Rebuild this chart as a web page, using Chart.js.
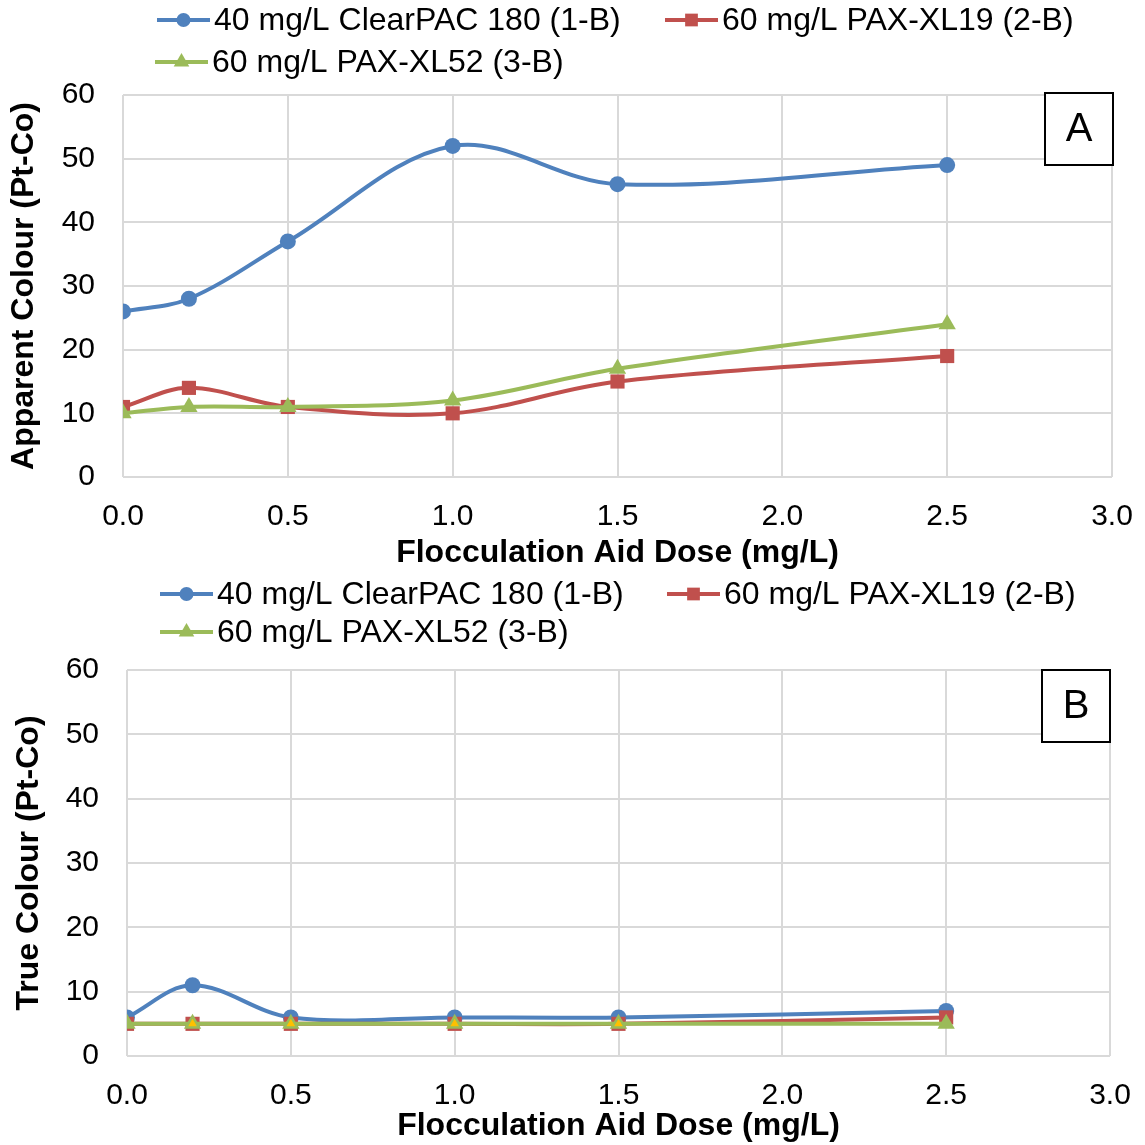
<!DOCTYPE html>
<html>
<head>
<meta charset="utf-8">
<script src="https://cdn.jsdelivr.net/npm/chart.js@4.4.1/dist/chart.umd.min.js"></script>
<style>
  body { margin: 0; background: #fff; }
  #wrapA { position: absolute; left: 0; top: 0; width: 1145px; height: 575px; }
  #wrapB { position: absolute; left: 0; top: 575px; width: 1145px; height: 570px; }
</style>
</head>
<body>
<div id="wrapA"><canvas id="chartA"></canvas></div>
<div id="wrapB"><canvas id="chartB"></canvas></div>
<script>
// doses on the x axis (mg/L)
const doses = [0, 0.2, 0.5, 1.0, 1.5, 2.5]
const xTicks = [0, 0.5, 1.0, 1.5, 2.0, 2.5, 3.0]
const seriesNames = ['40 mg/L ClearPAC 180 (1-B)', '60 mg/L PAX-XL19 (2-B)', '60 mg/L PAX-XL52 (3-B)']

// panel A - apparent colour
const apparentClearPAC = [26, 28, 37, 52, 46, 49]
const apparentXL19 = [11, 14, 11, 10, 15, 19]
const apparentXL52 = [10, 11, 11, 12, 17, 24]

// panel B - true colour
const trueClearPAC = [6, 11, 6, 6, 6, 7]
const trueXL19 = [5, 5, 5, 5, 5, 6]
const trueXL52 = [5, 5, 5, 5, 5, 5]
// stray series in panel B (not in legend)
const strayDoses = [0.2, 0.5, 1.0, 1.5]
const trueStray = [5, 5, 5, 5]

const colors = ['#4F81BD', '#C0504D', '#9BBB59']
const styles = ['circle', 'rect', 'triangle']
const radii = [8, 10, 10]
const FONT = 'Arial, "Liberation Sans", sans-serif'

function pts(xs, ys) {
  return xs.map((x, i) => ({ x: x, y: ys[i] }))
}

function makeSet(i, ys) {
  return {
    label: seriesNames[i],
    data: pts(doses, ys),
    borderColor: colors[i],
    backgroundColor: colors[i],
    borderWidth: 4,
    pointStyle: styles[i],
    pointRadius: radii[i],
    pointBorderWidth: 0,
    tension: 0.35,
    order: 3 - i
  }
}

function marker(ctx, style, x, y, r, color) {
  ctx.fillStyle = color
  ctx.beginPath()
  if (style === 'circle') {
    ctx.arc(x, y, r, 0, Math.PI * 2)
  } else if (style === 'rect') {
    const s = r * Math.SQRT1_2
    ctx.rect(x - s, y - s, 2 * s, 2 * s)
  } else {
    ctx.moveTo(x, y - r)
    ctx.lineTo(x + r * 0.866, y + r * 0.5)
    ctx.lineTo(x - r * 0.866, y + r * 0.5)
    ctx.closePath()
  }
  ctx.fill()
}

// legend drawn in rows like the excel one
const rowLegend = {
  id: 'rowLegend',
  afterDraw(chart, args, opts) {
    const ctx = chart.ctx
    ctx.save()
    ctx.font = '32px ' + FONT
    ctx.textBaseline = 'middle'
    ctx.textAlign = 'left'
    opts.items.forEach(it => {
      const i = it.i
      ctx.strokeStyle = colors[i]
      ctx.lineWidth = 4
      ctx.beginPath()
      ctx.moveTo(it.x, it.y)
      ctx.lineTo(it.x + 53, it.y)
      ctx.stroke()
      marker(ctx, styles[i], it.x + 26.5, it.y, radii[i] - 1, colors[i])
      ctx.fillStyle = '#000'
      ctx.fillText(seriesNames[i], it.x + 57, it.y + 1)
    })
    ctx.restore()
  }
}

const panelLabel = {
  id: 'panelLabel',
  afterDraw(chart, args, opts) {
    const ctx = chart.ctx
    ctx.save()
    ctx.fillStyle = '#fff'
    ctx.fillRect(opts.x, opts.y, 68, 72)
    ctx.strokeStyle = '#000'
    ctx.lineWidth = 2
    ctx.strokeRect(opts.x, opts.y, 68, 72)
    ctx.fillStyle = '#000'
    ctx.font = '40px ' + FONT
    ctx.textAlign = 'center'
    ctx.textBaseline = 'middle'
    ctx.fillText(opts.text, opts.x + 34, opts.y + 37)
    ctx.restore()
  }
}

function makeChart(id, sets, yTitle, o) {
  return new Chart(document.getElementById(id), {
    type: 'line',
    data: { datasets: sets },
    plugins: [rowLegend, panelLabel],
    options: {
      responsive: true,
      maintainAspectRatio: false,
      animation: false,
      layout: { padding: { top: o.top, right: o.right, bottom: o.bottom, left: 0 } },
      plugins: {
        legend: { display: false },
        tooltip: { enabled: false },
        rowLegend: { items: o.legend },
        panelLabel: o.label
      },
      scales: {
        x: {
          type: 'linear',
          min: 0,
          max: 3,
          afterBuildTicks: s => { s.ticks = xTicks.map(v => ({ value: v })) },
          ticks: {
            padding: o.xPad,
            color: '#000',
            font: { family: FONT, size: 30 },
            maxRotation: 0,
            callback: v => v.toFixed(1)
          },
          grid: { color: '#D9D9D9', lineWidth: 2, drawTicks: false },
          border: { display: false },
          title: {
            display: true,
            text: 'Flocculation Aid Dose (mg/L)',
            color: '#000',
            font: { family: FONT, size: 32, weight: 'bold' },
            padding: { top: 0, bottom: 0 }
          },
          afterFit: s => {
            s.height = o.xHeight
            s.paddingLeft = 0
            s.paddingRight = 0
          }
        },
        y: {
          min: 0,
          max: 60,
          ticks: {
            stepSize: 10,
            padding: 28,
            color: '#000',
            font: { family: FONT, size: 30 }
          },
          grid: { color: '#D9D9D9', lineWidth: 2, drawTicks: false },
          border: { display: false },
          title: {
            display: true,
            text: yTitle,
            color: '#000',
            font: { family: FONT, size: 32, weight: 'bold' },
            padding: { top: o.yTitlePad, bottom: 0 }
          },
          afterFit: s => { s.width = o.yWidth }
        }
      }
    }
  })
}

makeChart('chartA', [
  makeSet(0, apparentClearPAC),
  makeSet(1, apparentXL19),
  makeSet(2, apparentXL52)
], 'Apparent Colour (Pt-Co)', {
  top: 95, right: 33, bottom: 3, xHeight: 95, yWidth: 123, xPad: 22, yTitlePad: 5,
  legend: [{ i: 0, x: 157, y: 20 }, { i: 1, x: 665, y: 20 }, { i: 2, x: 155, y: 62 }],
  label: { x: 1045, y: 93, text: 'A' }
})

const straySet = {
  label: 'stray',
  data: pts(strayDoses, trueStray),
  showLine: false,
  borderColor: '#FFC000',
  backgroundColor: '#FFC000',
  pointStyle: 'triangle',
  pointRadius: 5,
  pointBorderWidth: 0,
  order: 0
}

makeChart('chartB', [
  makeSet(0, trueClearPAC),
  makeSet(1, trueXL19),
  makeSet(2, trueXL52),
  straySet
], 'True Colour (Pt-Co)', {
  top: 95, right: 35, bottom: 0, xHeight: 89, yWidth: 127, xPad: 22, yTitlePad: 10,
  legend: [{ i: 0, x: 160, y: 19 }, { i: 1, x: 667, y: 19 }, { i: 2, x: 160, y: 57 }],
  label: { x: 1042, y: 95, text: 'B' }
})
</script>
</body>
</html>
